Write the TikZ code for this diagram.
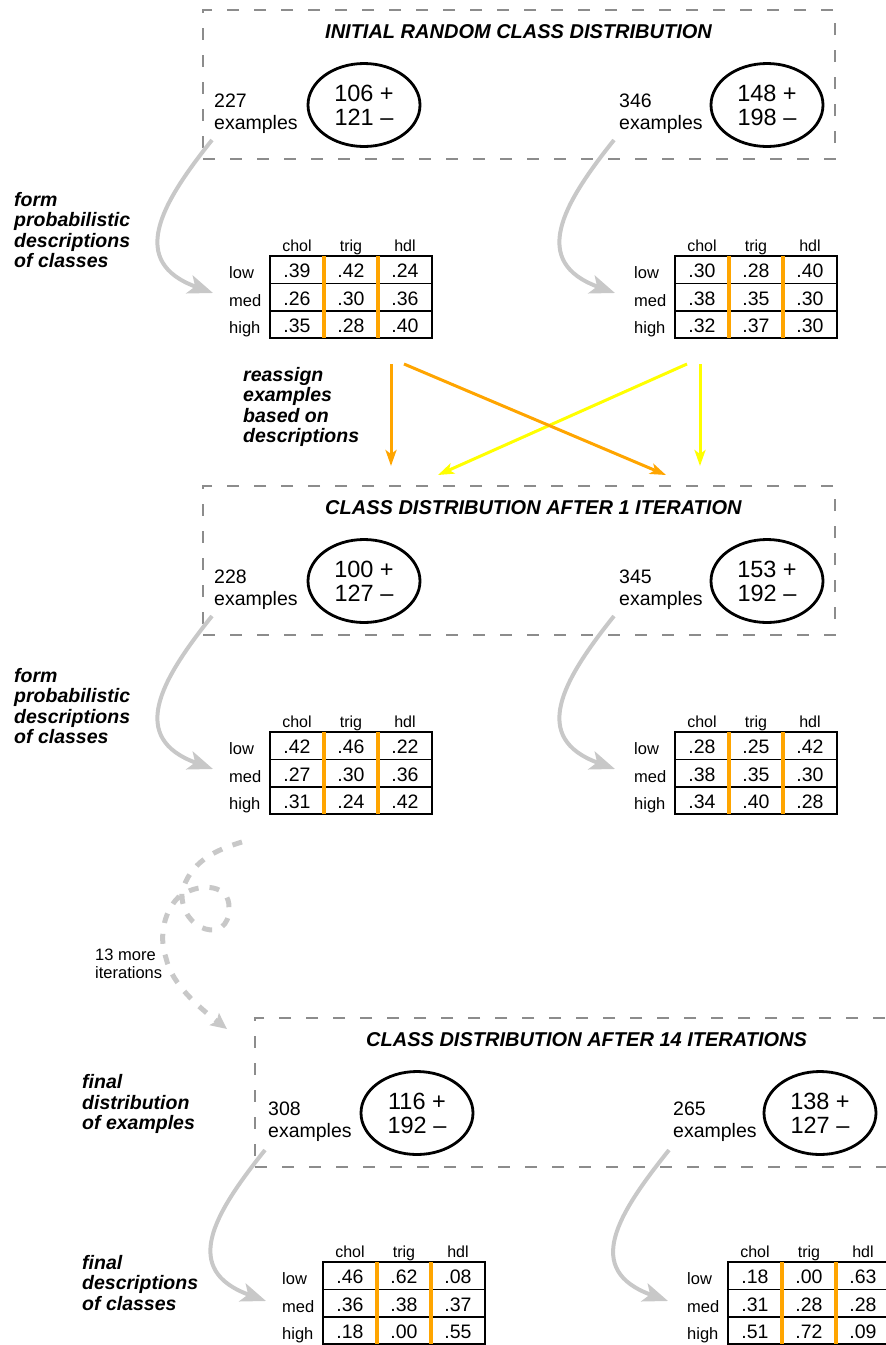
\documentclass[tikz,border=0pt]{standalone}
\usepackage{fontspec}
\setmainfont{Liberation Sans}
\usetikzlibrary{shapes.geometric,arrows.meta}
\definecolor{boxgray}{HTML}{8C8C8C}
\definecolor{arrgray}{HTML}{C8C8C8}
\definecolor{orng}{HTML}{FFA500}
\definecolor{yel}{HTML}{FFFF00}
\tikzset{
  dashbox/.style={draw=boxgray, line width=1.5pt, dash pattern=on 12pt off 15pt, anchor=north west,
    minimum width=632pt, minimum height=149pt, inner sep=0pt, outer sep=0pt},
  cls/.style={ellipse, draw, line width=2.8pt, minimum width=112pt, minimum height=83pt, inner sep=0pt,
    align=center, font=\fontsize{23.5}{24}\selectfont},
  extext/.style={anchor=west, align=left, inner sep=0pt, font=\fontsize{19.5}{22}\selectfont},
  titletext/.style={anchor=west, inner sep=0pt, font=\fontsize{20}{24}\selectfont\bfseries\itshape},
  sidetext/.style={anchor=west, align=left, inner sep=0pt, font=\fontsize{19.5}{20.3}\selectfont\bfseries\itshape},
  smalltext/.style={anchor=west, align=left, inner sep=0pt, font=\fontsize{16.5}{17.5}\selectfont},
  grayarr/.style={draw=arrgray, line width=4pt, -{Stealth[length=25pt,width=19pt,inset=6pt]}},
  loopline/.style={draw=arrgray, line width=5pt, dash pattern=on 10pt off 11pt, -{Stealth[length=16pt,width=15pt,inset=3pt]}},
  orarr/.style={draw=orng, line width=3pt, -{Stealth[length=16pt,width=11pt,inset=4pt]}},
  yearr/.style={draw=yel, line width=3pt, -{Stealth[length=16pt,width=11pt,inset=4pt]}},
  tabbox/.style={draw=black, line width=1.3pt, anchor=north west, minimum width=162pt, minimum height=82pt,
    inner sep=0pt, outer sep=0pt},
  tabline/.style={draw=black, line width=1.3pt},
  orline/.style={draw=orng, line width=3.6pt},
  hdr/.style={anchor=base, inner sep=0pt, font=\fontsize{16}{18}\selectfont},
  rowlab/.style={anchor=base west, inner sep=0pt, font=\fontsize{16.5}{18}\selectfont},
  val/.style={anchor=base, inner sep=0pt, font=\fontsize{19.5}{22}\selectfont}
}
\newcommand\probtab[9]{%
  \node[tabbox] (box) at (0,0) {};
  \draw[tabline] (0,27.5) -- (162,27.5) (0,55) -- (162,55);
  \draw[orline] (54,0) -- (54,82) (108,0) -- (108,82);
  \node[hdr] (hc) at (27,-4.5) {chol};
  \node[hdr] (ht) at (81,-4.5) {trig};
  \node[hdr] (hh) at (135,-4.5) {hdl};
  \node[rowlab] (rl) at (-41,22.5) {low};
  \node[rowlab] (rm) at (-41,50) {med};
  \node[rowlab] (rh) at (-41,77.5) {high};
  \node[val] (c11) at (27,21.5) {#1};
  \node[val] (c12) at (81,21.5) {#2};
  \node[val] (c13) at (135,21.5) {#3};
  \node[val] (c21) at (27,49) {#4};
  \node[val] (c22) at (81,49) {#5};
  \node[val] (c23) at (135,49) {#6};
  \node[val] (c31) at (27,76.5) {#7};
  \node[val] (c32) at (81,76.5) {#8};
  \node[val] (c33) at (135,76.5) {#9};
}
\begin{document}
\begin{tikzpicture}[x=1pt,y=-1pt]
\useasboundingbox (0,0) rectangle (886,1345);

% ---------- section 1 ----------
\node[dashbox] (box1) at (203,10) {};
\node[titletext] (title1) at (325,32) {INITIAL RANDOM CLASS DISTRIBUTION};
\node[extext] (n1L) at (214,114) {227\\examples};
\node[cls] (e1L) at (364,105) {106 +\\121 –};
\node[extext] (n1R) at (619,114) {346\\examples};
\node[cls] (e1R) at (767,105) {148 +\\198 –};
\node[sidetext] (side1) at (14,230) {form\\probabilistic\\descriptions\\of classes};
\begin{scope}[shift={(270,256)}, name prefix=t1L-]
  \probtab{.39}{.42}{.24}{.26}{.30}{.36}{.35}{.28}{.40}
\end{scope}
\begin{scope}[shift={(675,256)}, name prefix=t1R-]
  \probtab{.30}{.28}{.40}{.38}{.35}{.30}{.32}{.37}{.30}
\end{scope}
\coordinate (g1La) at (212,140); \coordinate (g1Lb) at (213,293);
\coordinate (g1Ra) at (614,140); \coordinate (g1Rb) at (615,293);
\draw[grayarr] (g1La) .. controls +(-52,65) and +(-85,-31) .. (g1Lb);
\draw[grayarr] (g1Ra) .. controls +(-52,65) and +(-85,-31) .. (g1Rb);

% reassignment arrows
\node[sidetext] (reas) at (243,407) {reassign\\examples\\based on\\descriptions};
\coordinate (o1a) at (391,364); \coordinate (o1b) at (391,466);
\coordinate (o2a) at (404,364); \coordinate (o2b) at (666,475);
\coordinate (y1a) at (687,364); \coordinate (y1b) at (438,475);
\coordinate (y2a) at (700,364); \coordinate (y2b) at (700,466);
\draw[yearr] (y1a) -- (y1b);
\draw[yearr] (y2a) -- (y2b);
\draw[orarr] (o1a) -- (o1b);
\draw[orarr] (o2a) -- (o2b);

% ---------- section 2 ----------
\node[dashbox] (box2) at (203,486) {};
\node[titletext] (title2) at (325,508) {CLASS DISTRIBUTION AFTER 1 ITERATION};
\node[extext] (n2L) at (214,590) {228\\examples};
\node[cls] (e2L) at (364,581) {100 +\\127 –};
\node[extext] (n2R) at (619,590) {345\\examples};
\node[cls] (e2R) at (767,581) {153 +\\192 –};
\node[sidetext] (side2) at (14,706) {form\\probabilistic\\descriptions\\of classes};
\begin{scope}[shift={(270,732)}, name prefix=t2L-]
  \probtab{.42}{.46}{.22}{.27}{.30}{.36}{.31}{.24}{.42}
\end{scope}
\begin{scope}[shift={(675,732)}, name prefix=t2R-]
  \probtab{.28}{.25}{.42}{.38}{.35}{.30}{.34}{.40}{.28}
\end{scope}
\coordinate (g2La) at (212,616); \coordinate (g2Lb) at (213,769);
\coordinate (g2Ra) at (614,616); \coordinate (g2Rb) at (615,769);
\draw[grayarr] (g2La) .. controls +(-52,65) and +(-85,-31) .. (g2Lb);
\draw[grayarr] (g2Ra) .. controls +(-52,65) and +(-85,-31) .. (g2Rb);

% ---------- loop ----------
\node[smalltext] (more) at (95,964) {13 more\\iterations};
\coordinate (sp0) at (242,842); \coordinate (sp1) at (227,1029);
\draw[loopline] (sp0)
  .. controls (215,850) and (190,862) .. (182,892)
  .. controls (180,932) and (230,945) .. (229,908)
  .. controls (230,885) and (202,882) .. (181,895)
  .. controls (165,908) and (158,935) .. (166,958)
  .. controls (172,985) and (200,1008) .. (sp1);

% ---------- section 3 ----------
\node[dashbox] (box3) at (255,1018) {};
\node[titletext] (title3) at (366,1040) {CLASS DISTRIBUTION AFTER 14 ITERATIONS};
\node[extext] (n3L) at (268,1122) {308\\examples};
\node[cls] (e3L) at (417,1113) {116 +\\192 –};
\node[extext] (n3R) at (673,1122) {265\\examples};
\node[cls] (e3R) at (820,1113) {138 +\\127 –};
\node[sidetext] (side3) at (82,1104) {final\\distribution\\of examples};
\node[sidetext] (side4) at (82,1283) {final\\descriptions\\of classes};
\begin{scope}[shift={(323,1262)}, name prefix=t3L-]
  \probtab{.46}{.62}{.08}{.36}{.38}{.37}{.18}{.00}{.55}
\end{scope}
\begin{scope}[shift={(728,1262)}, name prefix=t3R-]
  \probtab{.18}{.00}{.63}{.31}{.28}{.28}{.51}{.72}{.09}
\end{scope}
\coordinate (g3La) at (265,1150); \coordinate (g3Lb) at (266,1301);
\coordinate (g3Ra) at (669,1150); \coordinate (g3Rb) at (668,1301);
\draw[grayarr] (g3La) .. controls +(-52,65) and +(-85,-31) .. (g3Lb);
\draw[grayarr] (g3Ra) .. controls +(-52,65) and +(-85,-31) .. (g3Rb);
\end{tikzpicture}
\end{document}
